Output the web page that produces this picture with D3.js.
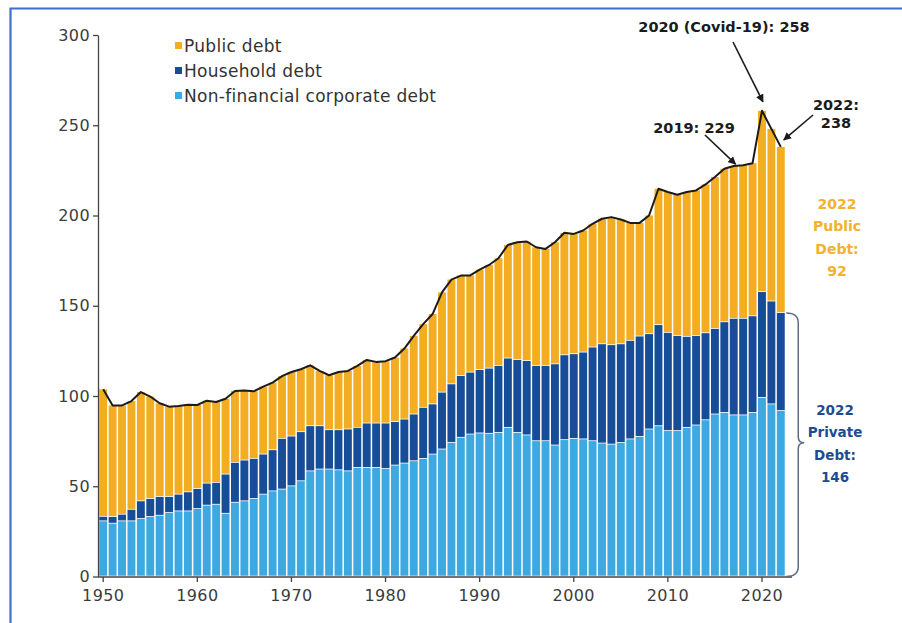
<!DOCTYPE html>
<html><head><meta charset="utf-8">
<script src="https://cdn.jsdelivr.net/npm/d3@7"></script>
<style>body{margin:0;background:#fff;} svg{display:block;}</style>
</head><body>
<svg id="chart" width="902" height="623"></svg>
<script>
const years = d3.range(1950, 2023);
const corporate = [30.6,29.3,30.6,30.6,31.9,33.0,33.7,35.2,36.1,36.1,
  37.4,39.3,39.8,34.8,40.9,41.7,43.0,45.4,47.2,48.2,
  50.0,52.8,58.3,59.3,59.3,58.9,58.3,60.2,60.2,60.2,
  59.6,61.5,62.6,63.9,65.2,67.6,70.4,74.1,76.9,78.7,
  79.3,79.1,79.6,82.4,79.6,78.2,75.0,75.0,72.6,75.6,
  76.3,76.0,75.0,73.7,73.1,74.0,76.0,77.4,81.5,83.3,
  80.6,80.6,82.4,83.7,86.6,89.8,90.7,89.3,89.3,90.7,
  99.0,95.4,91.7];
const household = [2.5,3.7,3.7,6.4,9.8,10.0,10.4,8.9,9.3,10.6,
  11.1,12.2,12.1,21.7,22.1,22.6,22.2,22.2,22.8,28.1,
  27.6,27.2,25.0,24.0,21.8,22.2,23.2,22.2,24.6,24.6,
  25.2,24.1,24.4,25.9,28.3,27.8,31.5,32.4,34.2,34.3,
  35.1,36.1,37.1,38.4,40.4,41.2,41.7,41.7,45.0,47.0,
  46.9,48.1,51.9,55.0,55.1,54.7,54.6,55.6,52.8,56.0,
  54.4,52.7,50.4,49.6,48.2,47.4,50.2,53.5,53.5,53.5,
  58.6,57.0,54.3];
const publicDebt = [70.6,61.8,60.5,60.2,60.5,56.7,51.9,50.0,49.0,48.5,
  46.5,45.9,44.8,42.0,39.8,38.7,37.4,37.6,37.4,34.7,
  35.7,34.8,33.7,30.6,30.4,32.2,32.4,34.3,35.2,34.1,
  34.5,35.7,39.3,43.5,46.3,50.0,55.5,58.0,55.6,53.8,
  55.6,57.4,59.6,62.9,65.2,66.2,65.7,64.8,67.6,67.8,
  66.6,67.6,68.5,69.5,70.9,69.1,65.3,62.9,65.7,75.5,
  78.0,78.2,80.2,80.6,82.4,84.1,85.0,84.6,85.0,84.8,
  100.4,95.6,92.0];
const seriesKeys = ["corporate","household","public"];
const legendKeys = ["public","household","corporate"];
const legendLabels = ["Public debt","Household debt","Non-financial corporate debt"];
const colors = {public:"#F2AD22", household:"#174C96", corporate:"#3EA8E0"};
const yTicks = [0,50,100,150,200,250,300];
const xTicks = [1950,1960,1970,1980,1990,2000,2010,2020];

const rows = years.map((yr,i)=>({year:yr, corporate:corporate[i], household:household[i], public:publicDebt[i]}));
const stack = d3.stack().keys(seriesKeys)(rows);

const svg = d3.select("#chart");
// frame
svg.append("path").attr("d","M10.5,623 L10.5,8.5 L902,8.5").attr("fill","none").attr("stroke","#3F6FCB").attr("stroke-width",2.2);

const x = d3.scaleBand().domain(years).range([98.5,785.5]).paddingInner(0.16).paddingOuter(0.08);
const y = d3.scaleLinear().domain([0,300]).range([576.5,35]);

const g = svg.append("g");
g.selectAll("g.layer").data(stack).join("g").attr("class","layer")
  .attr("fill", d=>colors[d.key])
  .selectAll("rect").data(d=>d).join("rect")
  .attr("x", d=>x(d.data.year))
  .attr("width", x.bandwidth())
  .attr("y", d=>y(d[1]))
  .attr("height", d=>Math.max(0, y(d[0])-y(d[1])-0.8));

// total line
const totals = rows.map(r=>({year:r.year, v:r.corporate+r.household+r.public}));
g.append("path").datum(totals)
  .attr("fill","none").attr("stroke","#1b1b1b").attr("stroke-width",2).attr("stroke-linejoin","round")
  .attr("d", d3.line().x(d=>x(d.year)+x.bandwidth()/2).y(d=>y(d.v)));

// axes
const fontTick = "DejaVu Sans, sans-serif";
const yAxis = svg.append("g").attr("transform","translate(98,0)")
  .call(d3.axisLeft(y).tickValues(yTicks).tickSize(5).tickSizeOuter(0).tickPadding(3));
yAxis.select(".domain").attr("stroke","#444").attr("stroke-width",1.3);
yAxis.selectAll(".tick line").attr("stroke","#444").attr("stroke-width",1.3);
yAxis.selectAll("text").attr("font-family",fontTick).attr("font-size",16).attr("fill","#3c3c3c").attr("letter-spacing",0.4);

const xAxis = svg.append("g").attr("transform","translate(0,577)")
  .call(d3.axisBottom(x).tickValues(xTicks).tickSize(5).tickSizeOuter(0).tickPadding(8));
xAxis.select(".domain").remove();
xAxis.append("line").attr("x1",98).attr("x2",792).attr("stroke","#444").attr("stroke-width",1.3);
xAxis.selectAll(".tick line").attr("stroke","#444").attr("stroke-width",1.3);
xAxis.selectAll("text").attr("font-family",fontTick).attr("font-size",16).attr("fill","#3c3c3c").attr("letter-spacing",0.4);

// legend
const leg = svg.append("g").attr("transform","translate(175,46)");
legendKeys.forEach((k,i)=>{
  const row = leg.append("g").attr("transform",`translate(0,${i*25})`);
  row.append("rect").attr("x",0).attr("y",-4).attr("width",7).attr("height",7).attr("fill",colors[k]);
  row.append("text").attr("x",9).attr("y",0).attr("dy","0.35em")
    .attr("font-family",fontTick).attr("font-size",17).attr("letter-spacing",0.3).attr("fill","#333").text(legendLabels[i]);
});

// arrow marker
const defs = svg.append("defs");
defs.append("marker").attr("id","ah").attr("viewBox","0 0 10 10").attr("refX",9).attr("refY",5)
  .attr("markerWidth",5).attr("markerHeight",5).attr("orient","auto-start-reverse")
  .append("path").attr("d","M0,0 L10,5 L0,10 z").attr("fill","#1b1b1b");

const cx = yr => x(yr)+x.bandwidth()/2;
function txt(sel, t, xx, yy, size, color, anchor){
  return sel.append("text").attr("x",xx).attr("y",yy).attr("font-size",size).attr("fill",color)
    .attr("text-anchor",anchor||"middle").attr("font-family",fontTick).attr("font-weight","bold").text(t);
}
const ann = svg.append("g");
const arrows = [
  {x1:733, y1:42, x2:cx(2020)+1, y2:y(258)-9},
  {x1:705, y1:135, x2:cx(2019)-17, y2:y(229)+1},
  {x1:813, y1:115, x2:cx(2022)+3, y2:y(238)-7}
];
arrows.forEach(a=>{
  ann.append("line").attr("x1",a.x1).attr("y1",a.y1).attr("x2",a.x2).attr("y2",a.y2)
    .attr("stroke","#1b1b1b").attr("stroke-width",1.6).attr("marker-end","url(#ah)");
});
txt(ann,"2020 (Covid-19): 258",724,32,14.5,"#1b1b1b");
txt(ann,"2019: 229",694,133,14.5,"#1b1b1b");
txt(ann,"2022:",836,110,14.5,"#1b1b1b");
txt(ann,"238",836,128,14.5,"#1b1b1b");

const pubLines = ["2022","Public","Debt:","92"];
pubLines.forEach((t,i)=>txt(ann,t,837,209+i*22.3,14,"#F2B12E"));
const privLines = ["2022","Private","Debt:","146"];
privLines.forEach((t,i)=>txt(ann,t,835,415+i*22.3,13.5,"#1D4C8F"));

// brace for private debt
const bx = x(2022)+x.bandwidth()+1.5, bt = y(146), bb = y(0), bm = (bt+bb)/2 - 2;
ann.append("path")
  .attr("d",`M${bx},${bt} Q${bx+12},${bt} ${bx+12},${bt+10} L${bx+12},${bm-6} Q${bx+12},${bm} ${bx+18},${bm} Q${bx+12},${bm} ${bx+12},${bm+6} L${bx+12},${bb-10} Q${bx+12},${bb} ${bx},${bb}`)
  .attr("fill","none").attr("stroke","#5d6b82").attr("stroke-width",1.5);
</script>
</body></html>
